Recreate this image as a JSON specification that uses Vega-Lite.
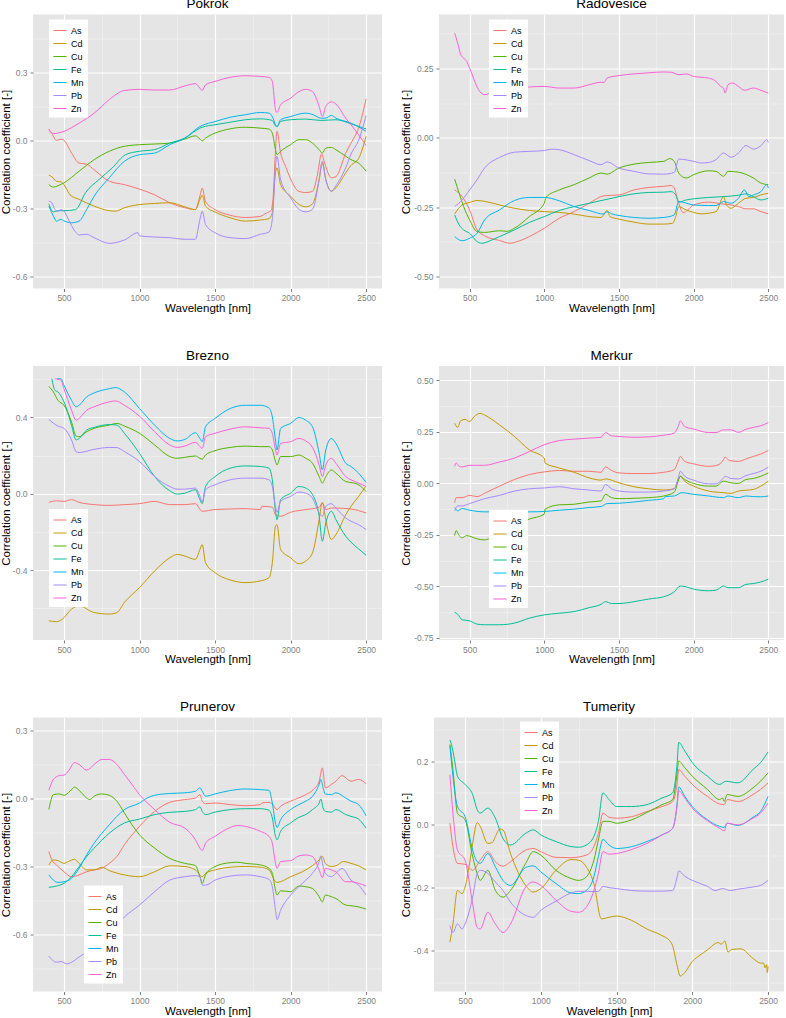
{
"$schema":"https://vega.github.io/schema/vega-lite/v6.json",
"background":"white",
"padding":{"left":0,"top":-3.5,"right":0,"bottom":0},
"config":{
 "font":"Liberation Sans",
 "view":{"fill":"#E5E5E5","stroke":null},
 "axis":{"domain":false,"labelColor":"#7F7F7F","labelFontSize":8.5,"tickSize":3,"tickColor":"#7F7F7F","titleFontSize":11.5,"titleFontWeight":"normal","titleColor":"black","labelFlush":false,"labelOverlap":false},
 "axisX":{"labelPadding":2,"titlePadding":0},
 "axisY":{"labelPadding":3,"titlePadding":1},
 "title":{"fontSize":13.5,"fontWeight":"normal","offset":0,"color":"black"},
 "legend":{"fillColor":"white","padding":4,"symbolType":"stroke","symbolStrokeWidth":1.4,"symbolSize":169,"labelFontSize":9,"labelColor":"black","rowPadding":1,"labelOffset":4},
 "line":{"strokeWidth":1,"interpolate":"monotone","clip":true}
},
"datasets":{
"Pokrok":[
{"el":"As","wl":400,"r":0.05},{"el":"As","wl":420,"r":0.03},{"el":"As","wl":450,"r":0.0},{"el":"As","wl":480,"r":0.005},{"el":"As","wl":500,"r":0.0},{"el":"As","wl":550,"r":-0.055},{"el":"As","wl":600,"r":-0.1},{"el":"As","wl":650,"r":-0.105},{"el":"As","wl":700,"r":-0.13},{"el":"As","wl":800,"r":-0.18},{"el":"As","wl":900,"r":-0.195},{"el":"As","wl":1000,"r":-0.215},{"el":"As","wl":1100,"r":-0.24},{"el":"As","wl":1200,"r":-0.275},{"el":"As","wl":1300,"r":-0.297},{"el":"As","wl":1370,"r":-0.305},{"el":"As","wl":1400,"r":-0.245},{"el":"As","wl":1415,"r":-0.21},{"el":"As","wl":1437,"r":-0.27},{"el":"As","wl":1500,"r":-0.305},{"el":"As","wl":1600,"r":-0.33},{"el":"As","wl":1700,"r":-0.34},{"el":"As","wl":1800,"r":-0.335},{"el":"As","wl":1840,"r":-0.32},{"el":"As","wl":1870,"r":-0.31},{"el":"As","wl":1885,"r":-0.245},{"el":"As","wl":1898,"r":-0.07},{"el":"As","wl":1910,"r":0.04},{"el":"As","wl":1934,"r":-0.055},{"el":"As","wl":1967,"r":-0.115},{"el":"As","wl":2000,"r":-0.17},{"el":"As","wl":2055,"r":-0.225},{"el":"As","wl":2100,"r":-0.23},{"el":"As","wl":2145,"r":-0.225},{"el":"As","wl":2175,"r":-0.16},{"el":"As","wl":2205,"r":-0.06},{"el":"As","wl":2225,"r":-0.1},{"el":"As","wl":2270,"r":-0.165},{"el":"As","wl":2300,"r":-0.16},{"el":"As","wl":2365,"r":-0.056},{"el":"As","wl":2400,"r":-0.012},{"el":"As","wl":2450,"r":0.054},{"el":"As","wl":2500,"r":0.183},
{"el":"Cd","wl":400,"r":-0.154},{"el":"Cd","wl":420,"r":-0.16},{"el":"Cd","wl":450,"r":-0.18},{"el":"Cd","wl":480,"r":-0.183},{"el":"Cd","wl":500,"r":-0.195},{"el":"Cd","wl":540,"r":-0.24},{"el":"Cd","wl":600,"r":-0.26},{"el":"Cd","wl":700,"r":-0.29},{"el":"Cd","wl":800,"r":-0.31},{"el":"Cd","wl":840,"r":-0.312},{"el":"Cd","wl":900,"r":-0.297},{"el":"Cd","wl":1000,"r":-0.283},{"el":"Cd","wl":1100,"r":-0.278},{"el":"Cd","wl":1200,"r":-0.275},{"el":"Cd","wl":1300,"r":-0.293},{"el":"Cd","wl":1370,"r":-0.305},{"el":"Cd","wl":1400,"r":-0.26},{"el":"Cd","wl":1415,"r":-0.242},{"el":"Cd","wl":1437,"r":-0.29},{"el":"Cd","wl":1500,"r":-0.316},{"el":"Cd","wl":1600,"r":-0.341},{"el":"Cd","wl":1700,"r":-0.356},{"el":"Cd","wl":1800,"r":-0.351},{"el":"Cd","wl":1857,"r":-0.345},{"el":"Cd","wl":1879,"r":-0.319},{"el":"Cd","wl":1900,"r":-0.143},{"el":"Cd","wl":1910,"r":-0.121},{"el":"Cd","wl":1934,"r":-0.195},{"el":"Cd","wl":2000,"r":-0.246},{"el":"Cd","wl":2055,"r":-0.282},{"el":"Cd","wl":2100,"r":-0.293},{"el":"Cd","wl":2145,"r":-0.28},{"el":"Cd","wl":2189,"r":-0.173},{"el":"Cd","wl":2210,"r":-0.1},{"el":"Cd","wl":2233,"r":-0.173},{"el":"Cd","wl":2270,"r":-0.224},{"el":"Cd","wl":2300,"r":-0.209},{"el":"Cd","wl":2365,"r":-0.143},{"el":"Cd","wl":2400,"r":-0.11},{"el":"Cd","wl":2450,"r":-0.08},{"el":"Cd","wl":2500,"r":0.018},
{"el":"Cu","wl":400,"r":-0.195},{"el":"Cu","wl":430,"r":-0.206},{"el":"Cu","wl":460,"r":-0.2},{"el":"Cu","wl":500,"r":-0.187},{"el":"Cu","wl":600,"r":-0.136},{"el":"Cu","wl":700,"r":-0.085},{"el":"Cu","wl":800,"r":-0.048},{"el":"Cu","wl":900,"r":-0.026},{"el":"Cu","wl":1000,"r":-0.019},{"el":"Cu","wl":1100,"r":-0.016},{"el":"Cu","wl":1200,"r":-0.012},{"el":"Cu","wl":1300,"r":0.006},{"el":"Cu","wl":1370,"r":0.02},{"el":"Cu","wl":1400,"r":0.006},{"el":"Cu","wl":1415,"r":-0.002},{"el":"Cu","wl":1437,"r":0.01},{"el":"Cu","wl":1500,"r":0.032},{"el":"Cu","wl":1600,"r":0.051},{"el":"Cu","wl":1700,"r":0.058},{"el":"Cu","wl":1800,"r":0.054},{"el":"Cu","wl":1857,"r":0.05},{"el":"Cu","wl":1879,"r":0.032},{"el":"Cu","wl":1900,"r":-0.041},{"el":"Cu","wl":1910,"r":-0.063},{"el":"Cu","wl":1934,"r":-0.048},{"el":"Cu","wl":2000,"r":-0.019},{"el":"Cu","wl":2055,"r":0.003},{"el":"Cu","wl":2100,"r":0.003},{"el":"Cu","wl":2145,"r":-0.012},{"el":"Cu","wl":2189,"r":-0.041},{"el":"Cu","wl":2210,"r":-0.056},{"el":"Cu","wl":2233,"r":-0.034},{"el":"Cu","wl":2270,"r":-0.031},{"el":"Cu","wl":2300,"r":-0.041},{"el":"Cu","wl":2365,"r":-0.07},{"el":"Cu","wl":2400,"r":-0.085},{"el":"Cu","wl":2450,"r":-0.1},{"el":"Cu","wl":2500,"r":-0.136},
{"el":"Fe","wl":400,"r":-0.28},{"el":"Fe","wl":430,"r":-0.315},{"el":"Fe","wl":460,"r":-0.31},{"el":"Fe","wl":500,"r":-0.31},{"el":"Fe","wl":577,"r":-0.305},{"el":"Fe","wl":643,"r":-0.23},{"el":"Fe","wl":731,"r":-0.173},{"el":"Fe","wl":820,"r":-0.121},{"el":"Fe","wl":908,"r":-0.063},{"el":"Fe","wl":1000,"r":-0.048},{"el":"Fe","wl":1100,"r":-0.041},{"el":"Fe","wl":1200,"r":-0.012},{"el":"Fe","wl":1300,"r":0.01},{"el":"Fe","wl":1400,"r":0.054},{"el":"Fe","wl":1415,"r":0.058},{"el":"Fe","wl":1500,"r":0.069},{"el":"Fe","wl":1600,"r":0.08},{"el":"Fe","wl":1700,"r":0.091},{"el":"Fe","wl":1800,"r":0.095},{"el":"Fe","wl":1879,"r":0.088},{"el":"Fe","wl":1900,"r":0.064},{"el":"Fe","wl":1910,"r":0.061},{"el":"Fe","wl":1934,"r":0.083},{"el":"Fe","wl":2000,"r":0.091},{"el":"Fe","wl":2100,"r":0.094},{"el":"Fe","wl":2200,"r":0.088},{"el":"Fe","wl":2300,"r":0.091},{"el":"Fe","wl":2400,"r":0.073},{"el":"Fe","wl":2500,"r":0.05},
{"el":"Mn","wl":400,"r":-0.29},{"el":"Mn","wl":430,"r":-0.334},{"el":"Mn","wl":450,"r":-0.356},{"el":"Mn","wl":480,"r":-0.348},{"el":"Mn","wl":500,"r":-0.355},{"el":"Mn","wl":550,"r":-0.363},{"el":"Mn","wl":600,"r":-0.356},{"el":"Mn","wl":650,"r":-0.305},{"el":"Mn","wl":700,"r":-0.246},{"el":"Mn","wl":800,"r":-0.165},{"el":"Mn","wl":900,"r":-0.092},{"el":"Mn","wl":1000,"r":-0.063},{"el":"Mn","wl":1100,"r":-0.056},{"el":"Mn","wl":1200,"r":-0.019},{"el":"Mn","wl":1300,"r":0.01},{"el":"Mn","wl":1400,"r":0.061},{"el":"Mn","wl":1415,"r":0.066},{"el":"Mn","wl":1500,"r":0.083},{"el":"Mn","wl":1600,"r":0.102},{"el":"Mn","wl":1700,"r":0.113},{"el":"Mn","wl":1800,"r":0.123},{"el":"Mn","wl":1857,"r":0.12},{"el":"Mn","wl":1879,"r":0.105},{"el":"Mn","wl":1900,"r":0.069},{"el":"Mn","wl":1910,"r":0.061},{"el":"Mn","wl":1934,"r":0.091},{"el":"Mn","wl":2000,"r":0.105},{"el":"Mn","wl":2100,"r":0.12},{"el":"Mn","wl":2150,"r":0.113},{"el":"Mn","wl":2200,"r":0.098},{"el":"Mn","wl":2230,"r":0.098},{"el":"Mn","wl":2270,"r":0.11},{"el":"Mn","wl":2300,"r":0.098},{"el":"Mn","wl":2400,"r":0.076},{"el":"Mn","wl":2500,"r":0.04},
{"el":"Pb","wl":400,"r":-0.268},{"el":"Pb","wl":420,"r":-0.275},{"el":"Pb","wl":440,"r":-0.305},{"el":"Pb","wl":460,"r":-0.312},{"el":"Pb","wl":480,"r":-0.305},{"el":"Pb","wl":500,"r":-0.312},{"el":"Pb","wl":540,"r":-0.363},{"el":"Pb","wl":580,"r":-0.407},{"el":"Pb","wl":600,"r":-0.417},{"el":"Pb","wl":650,"r":-0.414},{"el":"Pb","wl":700,"r":-0.429},{"el":"Pb","wl":800,"r":-0.454},{"el":"Pb","wl":900,"r":-0.439},{"el":"Pb","wl":990,"r":-0.407},{"el":"Pb","wl":1000,"r":-0.421},{"el":"Pb","wl":1100,"r":-0.426},{"el":"Pb","wl":1200,"r":-0.429},{"el":"Pb","wl":1300,"r":-0.436},{"el":"Pb","wl":1370,"r":-0.436},{"el":"Pb","wl":1400,"r":-0.348},{"el":"Pb","wl":1415,"r":-0.312},{"el":"Pb","wl":1437,"r":-0.371},{"el":"Pb","wl":1500,"r":-0.407},{"el":"Pb","wl":1600,"r":-0.429},{"el":"Pb","wl":1700,"r":-0.433},{"el":"Pb","wl":1800,"r":-0.414},{"el":"Pb","wl":1857,"r":-0.404},{"el":"Pb","wl":1879,"r":-0.348},{"el":"Pb","wl":1900,"r":-0.114},{"el":"Pb","wl":1910,"r":-0.07},{"el":"Pb","wl":1934,"r":-0.173},{"el":"Pb","wl":2000,"r":-0.253},{"el":"Pb","wl":2055,"r":-0.304},{"el":"Pb","wl":2100,"r":-0.315},{"el":"Pb","wl":2145,"r":-0.304},{"el":"Pb","wl":2189,"r":-0.173},{"el":"Pb","wl":2210,"r":-0.092},{"el":"Pb","wl":2233,"r":-0.173},{"el":"Pb","wl":2270,"r":-0.224},{"el":"Pb","wl":2300,"r":-0.2},{"el":"Pb","wl":2365,"r":-0.12},{"el":"Pb","wl":2400,"r":-0.06},{"el":"Pb","wl":2450,"r":0.0},{"el":"Pb","wl":2500,"r":0.11},
{"el":"Zn","wl":400,"r":0.047},{"el":"Zn","wl":430,"r":0.03},{"el":"Zn","wl":500,"r":0.04},{"el":"Zn","wl":600,"r":0.076},{"el":"Zn","wl":700,"r":0.12},{"el":"Zn","wl":800,"r":0.18},{"el":"Zn","wl":900,"r":0.22},{"el":"Zn","wl":1000,"r":0.225},{"el":"Zn","wl":1100,"r":0.222},{"el":"Zn","wl":1200,"r":0.222},{"el":"Zn","wl":1300,"r":0.24},{"el":"Zn","wl":1370,"r":0.25},{"el":"Zn","wl":1400,"r":0.23},{"el":"Zn","wl":1415,"r":0.22},{"el":"Zn","wl":1437,"r":0.245},{"el":"Zn","wl":1500,"r":0.26},{"el":"Zn","wl":1600,"r":0.278},{"el":"Zn","wl":1700,"r":0.285},{"el":"Zn","wl":1800,"r":0.282},{"el":"Zn","wl":1857,"r":0.278},{"el":"Zn","wl":1879,"r":0.26},{"el":"Zn","wl":1900,"r":0.135},{"el":"Zn","wl":1910,"r":0.123},{"el":"Zn","wl":1934,"r":0.157},{"el":"Zn","wl":2000,"r":0.186},{"el":"Zn","wl":2055,"r":0.215},{"el":"Zn","wl":2100,"r":0.225},{"el":"Zn","wl":2145,"r":0.215},{"el":"Zn","wl":2189,"r":0.15},{"el":"Zn","wl":2210,"r":0.105},{"el":"Zn","wl":2233,"r":0.15},{"el":"Zn","wl":2270,"r":0.17},{"el":"Zn","wl":2300,"r":0.16},{"el":"Zn","wl":2365,"r":0.098},{"el":"Zn","wl":2400,"r":0.069},{"el":"Zn","wl":2450,"r":0.025},{"el":"Zn","wl":2500,"r":-0.023}
],
"Radovesice":[
{"el":"As","wl":400,"r":-0.188},{"el":"As","wl":450,"r":-0.212},{"el":"As","wl":500,"r":-0.26},{"el":"As","wl":550,"r":-0.332},{"el":"As","wl":600,"r":-0.353},{"el":"As","wl":700,"r":-0.37},{"el":"As","wl":770,"r":-0.38},{"el":"As","wl":800,"r":-0.377},{"el":"As","wl":900,"r":-0.356},{"el":"As","wl":1000,"r":-0.326},{"el":"As","wl":1100,"r":-0.29},{"el":"As","wl":1200,"r":-0.266},{"el":"As","wl":1300,"r":-0.236},{"el":"As","wl":1400,"r":-0.209},{"el":"As","wl":1500,"r":-0.206},{"el":"As","wl":1600,"r":-0.188},{"el":"As","wl":1700,"r":-0.179},{"el":"As","wl":1800,"r":-0.175},{"el":"As","wl":1850,"r":-0.172},{"el":"As","wl":1870,"r":-0.181},{"el":"As","wl":1900,"r":-0.236},{"el":"As","wl":1930,"r":-0.27},{"el":"As","wl":1960,"r":-0.26},{"el":"As","wl":2000,"r":-0.242},{"el":"As","wl":2100,"r":-0.232},{"el":"As","wl":2200,"r":-0.239},{"el":"As","wl":2250,"r":-0.242},{"el":"As","wl":2300,"r":-0.248},{"el":"As","wl":2350,"r":-0.256},{"el":"As","wl":2400,"r":-0.256},{"el":"As","wl":2450,"r":-0.266},{"el":"As","wl":2500,"r":-0.274},
{"el":"Cd","wl":400,"r":-0.274},{"el":"Cd","wl":450,"r":-0.242},{"el":"Cd","wl":500,"r":-0.233},{"el":"Cd","wl":550,"r":-0.226},{"el":"Cd","wl":600,"r":-0.229},{"el":"Cd","wl":700,"r":-0.242},{"el":"Cd","wl":800,"r":-0.254},{"el":"Cd","wl":900,"r":-0.262},{"el":"Cd","wl":1000,"r":-0.266},{"el":"Cd","wl":1100,"r":-0.269},{"el":"Cd","wl":1200,"r":-0.275},{"el":"Cd","wl":1300,"r":-0.284},{"el":"Cd","wl":1380,"r":-0.287},{"el":"Cd","wl":1420,"r":-0.262},{"el":"Cd","wl":1440,"r":-0.284},{"el":"Cd","wl":1500,"r":-0.293},{"el":"Cd","wl":1600,"r":-0.304},{"el":"Cd","wl":1700,"r":-0.311},{"el":"Cd","wl":1800,"r":-0.311},{"el":"Cd","wl":1860,"r":-0.308},{"el":"Cd","wl":1880,"r":-0.284},{"el":"Cd","wl":1900,"r":-0.248},{"el":"Cd","wl":1950,"r":-0.26},{"el":"Cd","wl":2000,"r":-0.269},{"el":"Cd","wl":2050,"r":-0.274},{"el":"Cd","wl":2150,"r":-0.266},{"el":"Cd","wl":2200,"r":-0.212},{"el":"Cd","wl":2220,"r":-0.242},{"el":"Cd","wl":2250,"r":-0.254},{"el":"Cd","wl":2300,"r":-0.236},{"el":"Cd","wl":2350,"r":-0.218},{"el":"Cd","wl":2400,"r":-0.215},{"el":"Cd","wl":2450,"r":-0.206},{"el":"Cd","wl":2500,"r":-0.2},
{"el":"Cu","wl":400,"r":-0.149},{"el":"Cu","wl":430,"r":-0.2},{"el":"Cu","wl":460,"r":-0.248},{"el":"Cu","wl":500,"r":-0.296},{"el":"Cu","wl":550,"r":-0.338},{"el":"Cu","wl":600,"r":-0.341},{"el":"Cu","wl":700,"r":-0.335},{"el":"Cu","wl":750,"r":-0.337},{"el":"Cu","wl":800,"r":-0.326},{"el":"Cu","wl":900,"r":-0.284},{"el":"Cu","wl":1000,"r":-0.236},{"el":"Cu","wl":1010,"r":-0.215},{"el":"Cu","wl":1100,"r":-0.188},{"el":"Cu","wl":1200,"r":-0.169},{"el":"Cu","wl":1300,"r":-0.145},{"el":"Cu","wl":1380,"r":-0.127},{"el":"Cu","wl":1420,"r":-0.131},{"el":"Cu","wl":1500,"r":-0.109},{"el":"Cu","wl":1600,"r":-0.095},{"el":"Cu","wl":1700,"r":-0.089},{"el":"Cu","wl":1800,"r":-0.085},{"el":"Cu","wl":1840,"r":-0.075},{"el":"Cu","wl":1870,"r":-0.085},{"el":"Cu","wl":1900,"r":-0.127},{"el":"Cu","wl":1950,"r":-0.145},{"el":"Cu","wl":2000,"r":-0.133},{"el":"Cu","wl":2100,"r":-0.119},{"el":"Cu","wl":2150,"r":-0.121},{"el":"Cu","wl":2200,"r":-0.139},{"el":"Cu","wl":2230,"r":-0.121},{"el":"Cu","wl":2300,"r":-0.124},{"el":"Cu","wl":2400,"r":-0.145},{"el":"Cu","wl":2450,"r":-0.163},{"el":"Cu","wl":2500,"r":-0.169},
{"el":"Fe","wl":400,"r":-0.278},{"el":"Fe","wl":430,"r":-0.314},{"el":"Fe","wl":460,"r":-0.332},{"el":"Fe","wl":500,"r":-0.344},{"el":"Fe","wl":550,"r":-0.374},{"el":"Fe","wl":580,"r":-0.38},{"el":"Fe","wl":650,"r":-0.368},{"el":"Fe","wl":700,"r":-0.356},{"el":"Fe","wl":800,"r":-0.332},{"el":"Fe","wl":900,"r":-0.305},{"el":"Fe","wl":1000,"r":-0.284},{"el":"Fe","wl":1100,"r":-0.262},{"el":"Fe","wl":1200,"r":-0.248},{"el":"Fe","wl":1300,"r":-0.236},{"el":"Fe","wl":1400,"r":-0.224},{"el":"Fe","wl":1500,"r":-0.212},{"el":"Fe","wl":1600,"r":-0.202},{"el":"Fe","wl":1700,"r":-0.197},{"el":"Fe","wl":1800,"r":-0.196},{"el":"Fe","wl":1850,"r":-0.194},{"el":"Fe","wl":1880,"r":-0.206},{"el":"Fe","wl":1900,"r":-0.232},{"el":"Fe","wl":1950,"r":-0.224},{"el":"Fe","wl":2000,"r":-0.22},{"el":"Fe","wl":2100,"r":-0.215},{"el":"Fe","wl":2200,"r":-0.212},{"el":"Fe","wl":2300,"r":-0.207},{"el":"Fe","wl":2350,"r":-0.202},{"el":"Fe","wl":2400,"r":-0.212},{"el":"Fe","wl":2450,"r":-0.224},{"el":"Fe","wl":2500,"r":-0.218},
{"el":"Mn","wl":400,"r":-0.356},{"el":"Mn","wl":450,"r":-0.371},{"el":"Mn","wl":500,"r":-0.362},{"el":"Mn","wl":550,"r":-0.344},{"el":"Mn","wl":600,"r":-0.296},{"el":"Mn","wl":700,"r":-0.26},{"el":"Mn","wl":800,"r":-0.226},{"el":"Mn","wl":900,"r":-0.215},{"el":"Mn","wl":1000,"r":-0.215},{"el":"Mn","wl":1100,"r":-0.227},{"el":"Mn","wl":1200,"r":-0.248},{"el":"Mn","wl":1300,"r":-0.262},{"el":"Mn","wl":1400,"r":-0.275},{"el":"Mn","wl":1420,"r":-0.266},{"el":"Mn","wl":1450,"r":-0.274},{"el":"Mn","wl":1500,"r":-0.28},{"el":"Mn","wl":1600,"r":-0.287},{"el":"Mn","wl":1700,"r":-0.29},{"el":"Mn","wl":1800,"r":-0.287},{"el":"Mn","wl":1870,"r":-0.278},{"el":"Mn","wl":1900,"r":-0.23},{"el":"Mn","wl":2000,"r":-0.242},{"el":"Mn","wl":2100,"r":-0.244},{"el":"Mn","wl":2150,"r":-0.244},{"el":"Mn","wl":2200,"r":-0.23},{"el":"Mn","wl":2250,"r":-0.236},{"el":"Mn","wl":2300,"r":-0.218},{"el":"Mn","wl":2340,"r":-0.188},{"el":"Mn","wl":2370,"r":-0.212},{"el":"Mn","wl":2400,"r":-0.206},{"el":"Mn","wl":2450,"r":-0.194},{"el":"Mn","wl":2490,"r":-0.169},{"el":"Mn","wl":2500,"r":-0.181},
{"el":"Pb","wl":400,"r":-0.248},{"el":"Pb","wl":450,"r":-0.224},{"el":"Pb","wl":500,"r":-0.188},{"el":"Pb","wl":550,"r":-0.151},{"el":"Pb","wl":600,"r":-0.109},{"el":"Pb","wl":650,"r":-0.085},{"el":"Pb","wl":700,"r":-0.071},{"el":"Pb","wl":800,"r":-0.052},{"el":"Pb","wl":900,"r":-0.049},{"el":"Pb","wl":1000,"r":-0.046},{"el":"Pb","wl":1050,"r":-0.041},{"el":"Pb","wl":1100,"r":-0.043},{"el":"Pb","wl":1200,"r":-0.061},{"el":"Pb","wl":1300,"r":-0.082},{"el":"Pb","wl":1380,"r":-0.097},{"el":"Pb","wl":1420,"r":-0.087},{"el":"Pb","wl":1500,"r":-0.109},{"el":"Pb","wl":1600,"r":-0.121},{"el":"Pb","wl":1700,"r":-0.13},{"el":"Pb","wl":1800,"r":-0.131},{"el":"Pb","wl":1870,"r":-0.125},{"el":"Pb","wl":1900,"r":-0.077},{"el":"Pb","wl":2000,"r":-0.085},{"el":"Pb","wl":2050,"r":-0.091},{"el":"Pb","wl":2100,"r":-0.089},{"el":"Pb","wl":2150,"r":-0.079},{"el":"Pb","wl":2200,"r":-0.055},{"el":"Pb","wl":2250,"r":-0.07},{"el":"Pb","wl":2300,"r":-0.055},{"el":"Pb","wl":2350,"r":-0.028},{"el":"Pb","wl":2400,"r":-0.041},{"el":"Pb","wl":2450,"r":-0.029},{"el":"Pb","wl":2490,"r":-0.007},{"el":"Pb","wl":2500,"r":-0.017},
{"el":"Zn","wl":400,"r":0.377},{"el":"Zn","wl":420,"r":0.341},{"el":"Zn","wl":440,"r":0.3},{"el":"Zn","wl":460,"r":0.287},{"el":"Zn","wl":480,"r":0.275},{"el":"Zn","wl":500,"r":0.251},{"el":"Zn","wl":530,"r":0.209},{"el":"Zn","wl":560,"r":0.173},{"el":"Zn","wl":600,"r":0.155},{"el":"Zn","wl":650,"r":0.163},{"el":"Zn","wl":700,"r":0.167},{"el":"Zn","wl":800,"r":0.175},{"el":"Zn","wl":900,"r":0.183},{"el":"Zn","wl":1000,"r":0.185},{"el":"Zn","wl":1100,"r":0.179},{"el":"Zn","wl":1200,"r":0.179},{"el":"Zn","wl":1300,"r":0.191},{"el":"Zn","wl":1380,"r":0.2},{"el":"Zn","wl":1400,"r":0.199},{"el":"Zn","wl":1420,"r":0.215},{"el":"Zn","wl":1500,"r":0.224},{"el":"Zn","wl":1600,"r":0.23},{"el":"Zn","wl":1700,"r":0.234},{"el":"Zn","wl":1800,"r":0.237},{"el":"Zn","wl":1850,"r":0.236},{"el":"Zn","wl":1900,"r":0.227},{"el":"Zn","wl":1950,"r":0.23},{"el":"Zn","wl":2000,"r":0.221},{"el":"Zn","wl":2100,"r":0.215},{"el":"Zn","wl":2150,"r":0.203},{"el":"Zn","wl":2180,"r":0.185},{"el":"Zn","wl":2200,"r":0.179},{"el":"Zn","wl":2210,"r":0.161},{"el":"Zn","wl":2230,"r":0.191},{"el":"Zn","wl":2260,"r":0.197},{"el":"Zn","wl":2300,"r":0.185},{"el":"Zn","wl":2340,"r":0.171},{"el":"Zn","wl":2400,"r":0.179},{"el":"Zn","wl":2450,"r":0.171},{"el":"Zn","wl":2500,"r":0.161}
],
"Brezno":[
{"el":"As","wl":400,"r":-0.045},{"el":"As","wl":450,"r":-0.037},{"el":"As","wl":500,"r":-0.04},{"el":"As","wl":550,"r":-0.031},{"el":"As","wl":600,"r":-0.045},{"el":"As","wl":700,"r":-0.057},{"el":"As","wl":800,"r":-0.061},{"el":"As","wl":900,"r":-0.057},{"el":"As","wl":1000,"r":-0.052},{"el":"As","wl":1100,"r":-0.04},{"el":"As","wl":1200,"r":-0.057},{"el":"As","wl":1300,"r":-0.057},{"el":"As","wl":1370,"r":-0.052},{"el":"As","wl":1415,"r":-0.092},{"el":"As","wl":1500,"r":-0.083},{"el":"As","wl":1600,"r":-0.08},{"el":"As","wl":1700,"r":-0.078},{"el":"As","wl":1800,"r":-0.083},{"el":"As","wl":1810,"r":-0.066},{"el":"As","wl":1879,"r":-0.07},{"el":"As","wl":1900,"r":-0.11},{"el":"As","wl":1934,"r":-0.118},{"el":"As","wl":2000,"r":-0.097},{"el":"As","wl":2100,"r":-0.083},{"el":"As","wl":2189,"r":-0.071},{"el":"As","wl":2210,"r":-0.049},{"el":"As","wl":2233,"r":-0.083},{"el":"As","wl":2270,"r":-0.075},{"el":"As","wl":2300,"r":-0.075},{"el":"As","wl":2400,"r":-0.08},{"el":"As","wl":2500,"r":-0.101},
{"el":"Cd","wl":400,"r":-0.666},{"el":"Cd","wl":450,"r":-0.671},{"el":"Cd","wl":490,"r":-0.657},{"el":"Cd","wl":550,"r":-0.605},{"el":"Cd","wl":600,"r":-0.588},{"el":"Cd","wl":700,"r":-0.623},{"el":"Cd","wl":800,"r":-0.631},{"el":"Cd","wl":850,"r":-0.623},{"el":"Cd","wl":900,"r":-0.57},{"el":"Cd","wl":1000,"r":-0.492},{"el":"Cd","wl":1100,"r":-0.405},{"el":"Cd","wl":1200,"r":-0.336},{"el":"Cd","wl":1250,"r":-0.318},{"el":"Cd","wl":1300,"r":-0.327},{"el":"Cd","wl":1370,"r":-0.344},{"el":"Cd","wl":1400,"r":-0.292},{"el":"Cd","wl":1415,"r":-0.266},{"el":"Cd","wl":1437,"r":-0.362},{"el":"Cd","wl":1500,"r":-0.414},{"el":"Cd","wl":1600,"r":-0.452},{"el":"Cd","wl":1700,"r":-0.466},{"el":"Cd","wl":1800,"r":-0.457},{"el":"Cd","wl":1857,"r":-0.44},{"el":"Cd","wl":1879,"r":-0.362},{"el":"Cd","wl":1900,"r":-0.17},{"el":"Cd","wl":1910,"r":-0.162},{"el":"Cd","wl":1934,"r":-0.292},{"el":"Cd","wl":2000,"r":-0.336},{"el":"Cd","wl":2055,"r":-0.367},{"el":"Cd","wl":2100,"r":-0.353},{"el":"Cd","wl":2145,"r":-0.31},{"el":"Cd","wl":2189,"r":-0.136},{"el":"Cd","wl":2210,"r":-0.045},{"el":"Cd","wl":2233,"r":-0.136},{"el":"Cd","wl":2270,"r":-0.24},{"el":"Cd","wl":2300,"r":-0.214},{"el":"Cd","wl":2365,"r":-0.11},{"el":"Cd","wl":2400,"r":-0.066},{"el":"Cd","wl":2450,"r":-0.014},{"el":"Cd","wl":2500,"r":0.042},
{"el":"Cu","wl":400,"r":0.563},{"el":"Cu","wl":430,"r":0.534},{"el":"Cu","wl":460,"r":0.49},{"el":"Cu","wl":500,"r":0.464},{"el":"Cu","wl":550,"r":0.377},{"el":"Cu","wl":580,"r":0.303},{"el":"Cu","wl":600,"r":0.299},{"el":"Cu","wl":650,"r":0.325},{"el":"Cu","wl":700,"r":0.343},{"el":"Cu","wl":800,"r":0.36},{"el":"Cu","wl":850,"r":0.369},{"el":"Cu","wl":900,"r":0.355},{"el":"Cu","wl":1000,"r":0.317},{"el":"Cu","wl":1100,"r":0.256},{"el":"Cu","wl":1200,"r":0.195},{"el":"Cu","wl":1250,"r":0.186},{"el":"Cu","wl":1300,"r":0.191},{"el":"Cu","wl":1370,"r":0.198},{"el":"Cu","wl":1400,"r":0.186},{"el":"Cu","wl":1415,"r":0.181},{"el":"Cu","wl":1437,"r":0.203},{"el":"Cu","wl":1500,"r":0.226},{"el":"Cu","wl":1600,"r":0.243},{"el":"Cu","wl":1700,"r":0.25},{"el":"Cu","wl":1800,"r":0.247},{"el":"Cu","wl":1857,"r":0.247},{"el":"Cu","wl":1879,"r":0.23},{"el":"Cu","wl":1900,"r":0.169},{"el":"Cu","wl":1910,"r":0.151},{"el":"Cu","wl":1934,"r":0.195},{"el":"Cu","wl":2000,"r":0.195},{"el":"Cu","wl":2055,"r":0.203},{"el":"Cu","wl":2100,"r":0.186},{"el":"Cu","wl":2145,"r":0.16},{"el":"Cu","wl":2189,"r":0.09},{"el":"Cu","wl":2210,"r":0.056},{"el":"Cu","wl":2233,"r":0.09},{"el":"Cu","wl":2270,"r":0.125},{"el":"Cu","wl":2300,"r":0.108},{"el":"Cu","wl":2365,"r":0.064},{"el":"Cu","wl":2400,"r":0.059},{"el":"Cu","wl":2450,"r":0.047},{"el":"Cu","wl":2500,"r":0.012},
{"el":"Fe","wl":420,"r":0.603},{"el":"Fe","wl":440,"r":0.543},{"el":"Fe","wl":460,"r":0.534},{"el":"Fe","wl":500,"r":0.482},{"el":"Fe","wl":550,"r":0.36},{"el":"Fe","wl":580,"r":0.282},{"el":"Fe","wl":600,"r":0.29},{"el":"Fe","wl":650,"r":0.334},{"el":"Fe","wl":700,"r":0.348},{"el":"Fe","wl":800,"r":0.363},{"el":"Fe","wl":850,"r":0.36},{"el":"Fe","wl":900,"r":0.317},{"el":"Fe","wl":1000,"r":0.212},{"el":"Fe","wl":1100,"r":0.09},{"el":"Fe","wl":1200,"r":0.016},{"el":"Fe","wl":1250,"r":-0.002},{"el":"Fe","wl":1300,"r":0.003},{"el":"Fe","wl":1370,"r":0.021},{"el":"Fe","wl":1400,"r":-0.031},{"el":"Fe","wl":1415,"r":-0.052},{"el":"Fe","wl":1437,"r":0.038},{"el":"Fe","wl":1500,"r":0.09},{"el":"Fe","wl":1600,"r":0.134},{"el":"Fe","wl":1700,"r":0.146},{"el":"Fe","wl":1800,"r":0.143},{"el":"Fe","wl":1857,"r":0.134},{"el":"Fe","wl":1879,"r":0.073},{"el":"Fe","wl":1900,"r":-0.092},{"el":"Fe","wl":1910,"r":-0.136},{"el":"Fe","wl":1934,"r":-0.031},{"el":"Fe","wl":2000,"r":0.003},{"el":"Fe","wl":2055,"r":0.038},{"el":"Fe","wl":2100,"r":0.03},{"el":"Fe","wl":2145,"r":-0.005},{"el":"Fe","wl":2189,"r":-0.118},{"el":"Fe","wl":2210,"r":-0.249},{"el":"Fe","wl":2233,"r":-0.153},{"el":"Fe","wl":2270,"r":-0.092},{"el":"Fe","wl":2300,"r":-0.136},{"el":"Fe","wl":2365,"r":-0.223},{"el":"Fe","wl":2400,"r":-0.254},{"el":"Fe","wl":2450,"r":-0.289},{"el":"Fe","wl":2500,"r":-0.323},
{"el":"Mn","wl":455,"r":0.603},{"el":"Mn","wl":480,"r":0.603},{"el":"Mn","wl":500,"r":0.569},{"el":"Mn","wl":550,"r":0.49},{"el":"Mn","wl":580,"r":0.456},{"el":"Mn","wl":600,"r":0.464},{"el":"Mn","wl":650,"r":0.508},{"el":"Mn","wl":700,"r":0.529},{"el":"Mn","wl":800,"r":0.551},{"el":"Mn","wl":840,"r":0.557},{"el":"Mn","wl":900,"r":0.534},{"el":"Mn","wl":1000,"r":0.447},{"el":"Mn","wl":1100,"r":0.36},{"el":"Mn","wl":1200,"r":0.29},{"el":"Mn","wl":1250,"r":0.277},{"el":"Mn","wl":1300,"r":0.285},{"el":"Mn","wl":1370,"r":0.32},{"el":"Mn","wl":1400,"r":0.29},{"el":"Mn","wl":1415,"r":0.273},{"el":"Mn","wl":1437,"r":0.351},{"el":"Mn","wl":1500,"r":0.395},{"el":"Mn","wl":1600,"r":0.447},{"el":"Mn","wl":1700,"r":0.464},{"el":"Mn","wl":1800,"r":0.464},{"el":"Mn","wl":1857,"r":0.45},{"el":"Mn","wl":1879,"r":0.403},{"el":"Mn","wl":1900,"r":0.282},{"el":"Mn","wl":1910,"r":0.23},{"el":"Mn","wl":1934,"r":0.343},{"el":"Mn","wl":2000,"r":0.369},{"el":"Mn","wl":2055,"r":0.4},{"el":"Mn","wl":2100,"r":0.386},{"el":"Mn","wl":2145,"r":0.351},{"el":"Mn","wl":2189,"r":0.212},{"el":"Mn","wl":2210,"r":0.125},{"el":"Mn","wl":2233,"r":0.23},{"el":"Mn","wl":2270,"r":0.29},{"el":"Mn","wl":2300,"r":0.264},{"el":"Mn","wl":2365,"r":0.16},{"el":"Mn","wl":2400,"r":0.143},{"el":"Mn","wl":2450,"r":0.108},{"el":"Mn","wl":2500,"r":0.059},
{"el":"Pb","wl":400,"r":0.39},{"el":"Pb","wl":430,"r":0.37},{"el":"Pb","wl":460,"r":0.355},{"el":"Pb","wl":500,"r":0.343},{"el":"Pb","wl":550,"r":0.282},{"el":"Pb","wl":580,"r":0.221},{"el":"Pb","wl":600,"r":0.216},{"el":"Pb","wl":700,"r":0.233},{"el":"Pb","wl":800,"r":0.243},{"el":"Pb","wl":850,"r":0.242},{"el":"Pb","wl":900,"r":0.221},{"el":"Pb","wl":1000,"r":0.169},{"el":"Pb","wl":1100,"r":0.09},{"el":"Pb","wl":1200,"r":0.038},{"el":"Pb","wl":1250,"r":0.024},{"el":"Pb","wl":1300,"r":0.024},{"el":"Pb","wl":1370,"r":0.03},{"el":"Pb","wl":1400,"r":-0.014},{"el":"Pb","wl":1415,"r":-0.045},{"el":"Pb","wl":1437,"r":0.021},{"el":"Pb","wl":1500,"r":0.047},{"el":"Pb","wl":1600,"r":0.073},{"el":"Pb","wl":1700,"r":0.082},{"el":"Pb","wl":1800,"r":0.082},{"el":"Pb","wl":1857,"r":0.073},{"el":"Pb","wl":1879,"r":0.038},{"el":"Pb","wl":1900,"r":-0.066},{"el":"Pb","wl":1910,"r":-0.097},{"el":"Pb","wl":1934,"r":-0.04},{"el":"Pb","wl":2000,"r":-0.014},{"el":"Pb","wl":2055,"r":0.009},{"el":"Pb","wl":2100,"r":0.003},{"el":"Pb","wl":2145,"r":-0.023},{"el":"Pb","wl":2189,"r":-0.101},{"el":"Pb","wl":2210,"r":-0.118},{"el":"Pb","wl":2233,"r":-0.066},{"el":"Pb","wl":2270,"r":-0.052},{"el":"Pb","wl":2300,"r":-0.075},{"el":"Pb","wl":2365,"r":-0.127},{"el":"Pb","wl":2400,"r":-0.144},{"el":"Pb","wl":2450,"r":-0.162},{"el":"Pb","wl":2500,"r":-0.188},
{"el":"Zn","wl":440,"r":0.603},{"el":"Zn","wl":480,"r":0.595},{"el":"Zn","wl":500,"r":0.551},{"el":"Zn","wl":550,"r":0.438},{"el":"Zn","wl":580,"r":0.386},{"el":"Zn","wl":600,"r":0.395},{"el":"Zn","wl":650,"r":0.438},{"el":"Zn","wl":700,"r":0.456},{"el":"Zn","wl":800,"r":0.482},{"el":"Zn","wl":840,"r":0.487},{"el":"Zn","wl":900,"r":0.464},{"el":"Zn","wl":1000,"r":0.407},{"el":"Zn","wl":1100,"r":0.325},{"el":"Zn","wl":1200,"r":0.256},{"el":"Zn","wl":1250,"r":0.243},{"el":"Zn","wl":1300,"r":0.25},{"el":"Zn","wl":1370,"r":0.27},{"el":"Zn","wl":1400,"r":0.247},{"el":"Zn","wl":1415,"r":0.238},{"el":"Zn","wl":1437,"r":0.299},{"el":"Zn","wl":1500,"r":0.317},{"el":"Zn","wl":1600,"r":0.339},{"el":"Zn","wl":1700,"r":0.351},{"el":"Zn","wl":1800,"r":0.346},{"el":"Zn","wl":1857,"r":0.343},{"el":"Zn","wl":1879,"r":0.317},{"el":"Zn","wl":1900,"r":0.23},{"el":"Zn","wl":1910,"r":0.203},{"el":"Zn","wl":1934,"r":0.264},{"el":"Zn","wl":2000,"r":0.273},{"el":"Zn","wl":2055,"r":0.29},{"el":"Zn","wl":2100,"r":0.277},{"el":"Zn","wl":2145,"r":0.243},{"el":"Zn","wl":2189,"r":0.151},{"el":"Zn","wl":2210,"r":0.09},{"el":"Zn","wl":2233,"r":0.151},{"el":"Zn","wl":2270,"r":0.186},{"el":"Zn","wl":2300,"r":0.16},{"el":"Zn","wl":2365,"r":0.09},{"el":"Zn","wl":2400,"r":0.073},{"el":"Zn","wl":2450,"r":0.056},{"el":"Zn","wl":2500,"r":0.038}
],
"Merkur":[
{"el":"As","wl":400,"r":-0.093},{"el":"As","wl":410,"r":-0.069},{"el":"As","wl":450,"r":-0.069},{"el":"As","wl":500,"r":-0.058},{"el":"As","wl":550,"r":-0.064},{"el":"As","wl":600,"r":-0.048},{"el":"As","wl":700,"r":-0.013},{"el":"As","wl":800,"r":0.019},{"el":"As","wl":900,"r":0.043},{"el":"As","wl":1000,"r":0.056},{"el":"As","wl":1100,"r":0.063},{"el":"As","wl":1200,"r":0.059},{"el":"As","wl":1300,"r":0.059},{"el":"As","wl":1380,"r":0.054},{"el":"As","wl":1410,"r":0.08},{"el":"As","wl":1450,"r":0.063},{"el":"As","wl":1500,"r":0.051},{"el":"As","wl":1600,"r":0.048},{"el":"As","wl":1700,"r":0.048},{"el":"As","wl":1800,"r":0.054},{"el":"As","wl":1870,"r":0.067},{"el":"As","wl":1900,"r":0.115},{"el":"As","wl":1910,"r":0.131},{"el":"As","wl":1940,"r":0.107},{"el":"As","wl":2000,"r":0.095},{"el":"As","wl":2100,"r":0.083},{"el":"As","wl":2150,"r":0.087},{"el":"As","wl":2200,"r":0.115},{"el":"As","wl":2210,"r":0.128},{"el":"As","wl":2240,"r":0.111},{"el":"As","wl":2300,"r":0.107},{"el":"As","wl":2350,"r":0.119},{"el":"As","wl":2400,"r":0.131},{"el":"As","wl":2450,"r":0.143},{"el":"As","wl":2500,"r":0.16},
{"el":"Cd","wl":400,"r":0.292},{"el":"Cd","wl":420,"r":0.272},{"el":"Cd","wl":440,"r":0.304},{"el":"Cd","wl":470,"r":0.311},{"el":"Cd","wl":500,"r":0.3},{"el":"Cd","wl":530,"r":0.324},{"el":"Cd","wl":570,"r":0.34},{"el":"Cd","wl":600,"r":0.332},{"el":"Cd","wl":700,"r":0.284},{"el":"Cd","wl":800,"r":0.228},{"el":"Cd","wl":900,"r":0.163},{"el":"Cd","wl":1000,"r":0.123},{"el":"Cd","wl":1005,"r":0.099},{"el":"Cd","wl":1100,"r":0.075},{"el":"Cd","wl":1200,"r":0.054},{"el":"Cd","wl":1300,"r":0.027},{"el":"Cd","wl":1380,"r":0.016},{"el":"Cd","wl":1410,"r":0.022},{"el":"Cd","wl":1500,"r":0.003},{"el":"Cd","wl":1600,"r":-0.016},{"el":"Cd","wl":1700,"r":-0.026},{"el":"Cd","wl":1800,"r":-0.032},{"el":"Cd","wl":1870,"r":-0.026},{"el":"Cd","wl":1900,"r":0.022},{"el":"Cd","wl":1910,"r":0.035},{"el":"Cd","wl":1940,"r":0.011},{"el":"Cd","wl":2000,"r":-0.013},{"el":"Cd","wl":2100,"r":-0.037},{"el":"Cd","wl":2200,"r":-0.045},{"el":"Cd","wl":2250,"r":-0.048},{"el":"Cd","wl":2300,"r":-0.037},{"el":"Cd","wl":2400,"r":-0.029},{"el":"Cd","wl":2450,"r":-0.013},{"el":"Cd","wl":2500,"r":0.011},
{"el":"Cu","wl":400,"r":-0.253},{"el":"Cu","wl":410,"r":-0.229},{"el":"Cu","wl":430,"r":-0.253},{"el":"Cu","wl":450,"r":-0.264},{"el":"Cu","wl":480,"r":-0.253},{"el":"Cu","wl":500,"r":-0.256},{"el":"Cu","wl":550,"r":-0.269},{"el":"Cu","wl":600,"r":-0.274},{"el":"Cu","wl":650,"r":-0.261},{"el":"Cu","wl":700,"r":-0.24},{"el":"Cu","wl":800,"r":-0.205},{"el":"Cu","wl":900,"r":-0.173},{"el":"Cu","wl":1000,"r":-0.149},{"el":"Cu","wl":1005,"r":-0.125},{"el":"Cu","wl":1100,"r":-0.104},{"el":"Cu","wl":1200,"r":-0.101},{"el":"Cu","wl":1300,"r":-0.09},{"el":"Cu","wl":1380,"r":-0.085},{"el":"Cu","wl":1410,"r":-0.053},{"el":"Cu","wl":1450,"r":-0.069},{"el":"Cu","wl":1500,"r":-0.074},{"el":"Cu","wl":1600,"r":-0.072},{"el":"Cu","wl":1700,"r":-0.069},{"el":"Cu","wl":1800,"r":-0.061},{"el":"Cu","wl":1870,"r":-0.042},{"el":"Cu","wl":1900,"r":0.019},{"el":"Cu","wl":1910,"r":0.035},{"el":"Cu","wl":1940,"r":0.019},{"el":"Cu","wl":2000,"r":0.0},{"el":"Cu","wl":2100,"r":-0.013},{"el":"Cu","wl":2150,"r":-0.013},{"el":"Cu","wl":2200,"r":0.011},{"el":"Cu","wl":2250,"r":0.003},{"el":"Cu","wl":2300,"r":0.0},{"el":"Cu","wl":2350,"r":0.019},{"el":"Cu","wl":2400,"r":0.024},{"el":"Cu","wl":2450,"r":0.035},{"el":"Cu","wl":2500,"r":0.051},
{"el":"Fe","wl":400,"r":-0.625},{"el":"Fe","wl":420,"r":-0.635},{"el":"Fe","wl":450,"r":-0.662},{"el":"Fe","wl":500,"r":-0.667},{"el":"Fe","wl":550,"r":-0.683},{"el":"Fe","wl":600,"r":-0.686},{"el":"Fe","wl":700,"r":-0.686},{"el":"Fe","wl":800,"r":-0.678},{"el":"Fe","wl":900,"r":-0.654},{"el":"Fe","wl":1000,"r":-0.638},{"el":"Fe","wl":1100,"r":-0.63},{"el":"Fe","wl":1200,"r":-0.622},{"el":"Fe","wl":1300,"r":-0.603},{"el":"Fe","wl":1380,"r":-0.587},{"el":"Fe","wl":1410,"r":-0.574},{"el":"Fe","wl":1450,"r":-0.583},{"el":"Fe","wl":1500,"r":-0.583},{"el":"Fe","wl":1600,"r":-0.574},{"el":"Fe","wl":1700,"r":-0.561},{"el":"Fe","wl":1800,"r":-0.55},{"el":"Fe","wl":1870,"r":-0.526},{"el":"Fe","wl":1910,"r":-0.498},{"el":"Fe","wl":1950,"r":-0.502},{"el":"Fe","wl":2000,"r":-0.513},{"el":"Fe","wl":2100,"r":-0.521},{"el":"Fe","wl":2150,"r":-0.518},{"el":"Fe","wl":2200,"r":-0.498},{"el":"Fe","wl":2230,"r":-0.506},{"el":"Fe","wl":2300,"r":-0.506},{"el":"Fe","wl":2350,"r":-0.49},{"el":"Fe","wl":2400,"r":-0.486},{"el":"Fe","wl":2450,"r":-0.478},{"el":"Fe","wl":2500,"r":-0.465},
{"el":"Mn","wl":400,"r":-0.117},{"el":"Mn","wl":420,"r":-0.133},{"el":"Mn","wl":450,"r":-0.122},{"el":"Mn","wl":500,"r":-0.13},{"el":"Mn","wl":600,"r":-0.138},{"el":"Mn","wl":700,"r":-0.138},{"el":"Mn","wl":800,"r":-0.138},{"el":"Mn","wl":900,"r":-0.138},{"el":"Mn","wl":1000,"r":-0.136},{"el":"Mn","wl":1100,"r":-0.13},{"el":"Mn","wl":1200,"r":-0.125},{"el":"Mn","wl":1300,"r":-0.117},{"el":"Mn","wl":1380,"r":-0.112},{"el":"Mn","wl":1420,"r":-0.098},{"el":"Mn","wl":1500,"r":-0.096},{"el":"Mn","wl":1600,"r":-0.09},{"el":"Mn","wl":1700,"r":-0.082},{"el":"Mn","wl":1800,"r":-0.074},{"el":"Mn","wl":1810,"r":-0.064},{"el":"Mn","wl":1870,"r":-0.061},{"el":"Mn","wl":1920,"r":-0.045},{"el":"Mn","wl":2000,"r":-0.053},{"el":"Mn","wl":2100,"r":-0.061},{"el":"Mn","wl":2200,"r":-0.069},{"el":"Mn","wl":2230,"r":-0.061},{"el":"Mn","wl":2300,"r":-0.069},{"el":"Mn","wl":2350,"r":-0.061},{"el":"Mn","wl":2400,"r":-0.064},{"el":"Mn","wl":2450,"r":-0.065},{"el":"Mn","wl":2500,"r":-0.061},
{"el":"Pb","wl":400,"r":-0.133},{"el":"Pb","wl":420,"r":-0.109},{"el":"Pb","wl":450,"r":-0.109},{"el":"Pb","wl":500,"r":-0.098},{"el":"Pb","wl":600,"r":-0.074},{"el":"Pb","wl":700,"r":-0.058},{"el":"Pb","wl":800,"r":-0.037},{"el":"Pb","wl":900,"r":-0.026},{"el":"Pb","wl":1000,"r":-0.022},{"el":"Pb","wl":1100,"r":-0.016},{"el":"Pb","wl":1200,"r":-0.026},{"el":"Pb","wl":1300,"r":-0.032},{"el":"Pb","wl":1380,"r":-0.037},{"el":"Pb","wl":1410,"r":-0.005},{"el":"Pb","wl":1450,"r":-0.026},{"el":"Pb","wl":1500,"r":-0.037},{"el":"Pb","wl":1600,"r":-0.042},{"el":"Pb","wl":1700,"r":-0.042},{"el":"Pb","wl":1800,"r":-0.037},{"el":"Pb","wl":1870,"r":-0.026},{"el":"Pb","wl":1900,"r":0.035},{"el":"Pb","wl":1910,"r":0.059},{"el":"Pb","wl":1940,"r":0.035},{"el":"Pb","wl":2000,"r":0.016},{"el":"Pb","wl":2100,"r":-0.002},{"el":"Pb","wl":2150,"r":-0.002},{"el":"Pb","wl":2200,"r":0.027},{"el":"Pb","wl":2210,"r":0.035},{"el":"Pb","wl":2250,"r":0.024},{"el":"Pb","wl":2300,"r":0.022},{"el":"Pb","wl":2350,"r":0.038},{"el":"Pb","wl":2400,"r":0.048},{"el":"Pb","wl":2450,"r":0.059},{"el":"Pb","wl":2500,"r":0.079},
{"el":"Zn","wl":400,"r":0.083},{"el":"Zn","wl":410,"r":0.099},{"el":"Zn","wl":430,"r":0.083},{"el":"Zn","wl":450,"r":0.08},{"el":"Zn","wl":500,"r":0.088},{"el":"Zn","wl":600,"r":0.088},{"el":"Zn","wl":700,"r":0.104},{"el":"Zn","wl":800,"r":0.123},{"el":"Zn","wl":900,"r":0.155},{"el":"Zn","wl":1000,"r":0.188},{"el":"Zn","wl":1100,"r":0.208},{"el":"Zn","wl":1200,"r":0.215},{"el":"Zn","wl":1300,"r":0.22},{"el":"Zn","wl":1380,"r":0.224},{"el":"Zn","wl":1410,"r":0.247},{"el":"Zn","wl":1450,"r":0.231},{"el":"Zn","wl":1500,"r":0.228},{"el":"Zn","wl":1600,"r":0.224},{"el":"Zn","wl":1700,"r":0.226},{"el":"Zn","wl":1800,"r":0.234},{"el":"Zn","wl":1870,"r":0.244},{"el":"Zn","wl":1900,"r":0.284},{"el":"Zn","wl":1910,"r":0.304},{"el":"Zn","wl":1940,"r":0.276},{"el":"Zn","wl":2000,"r":0.264},{"el":"Zn","wl":2100,"r":0.247},{"el":"Zn","wl":2150,"r":0.247},{"el":"Zn","wl":2200,"r":0.26},{"el":"Zn","wl":2250,"r":0.26},{"el":"Zn","wl":2300,"r":0.248},{"el":"Zn","wl":2350,"r":0.263},{"el":"Zn","wl":2400,"r":0.272},{"el":"Zn","wl":2450,"r":0.28},{"el":"Zn","wl":2500,"r":0.295}
],
"Prunerov":[
{"el":"As","wl":400,"r":-0.235},{"el":"As","wl":420,"r":-0.272},{"el":"As","wl":450,"r":-0.294},{"el":"As","wl":500,"r":-0.324},{"el":"As","wl":550,"r":-0.346},{"el":"As","wl":600,"r":-0.338},{"el":"As","wl":650,"r":-0.324},{"el":"As","wl":700,"r":-0.316},{"el":"As","wl":750,"r":-0.309},{"el":"As","wl":800,"r":-0.287},{"el":"As","wl":850,"r":-0.257},{"el":"As","wl":900,"r":-0.205},{"el":"As","wl":1000,"r":-0.124},{"el":"As","wl":1100,"r":-0.058},{"el":"As","wl":1200,"r":-0.018},{"el":"As","wl":1300,"r":-0.006},{"el":"As","wl":1370,"r":0.001},{"el":"As","wl":1400,"r":0.016},{"el":"As","wl":1415,"r":-0.013},{"el":"As","wl":1437,"r":-0.024},{"el":"As","wl":1500,"r":-0.021},{"el":"As","wl":1600,"r":-0.028},{"el":"As","wl":1700,"r":-0.033},{"el":"As","wl":1800,"r":-0.028},{"el":"As","wl":1810,"r":-0.021},{"el":"As","wl":1857,"r":-0.018},{"el":"As","wl":1879,"r":-0.025},{"el":"As","wl":1910,"r":-0.05},{"el":"As","wl":1934,"r":-0.035},{"el":"As","wl":2000,"r":-0.013},{"el":"As","wl":2100,"r":0.016},{"el":"As","wl":2150,"r":0.038},{"el":"As","wl":2189,"r":0.075},{"el":"As","wl":2210,"r":0.134},{"el":"As","wl":2230,"r":0.046},{"el":"As","wl":2270,"r":0.061},{"el":"As","wl":2300,"r":0.075},{"el":"As","wl":2340,"r":0.1},{"el":"As","wl":2400,"r":0.075},{"el":"As","wl":2450,"r":0.083},{"el":"As","wl":2500,"r":0.064},
{"el":"Cd","wl":400,"r":-0.294},{"el":"Cd","wl":430,"r":-0.272},{"el":"Cd","wl":460,"r":-0.275},{"el":"Cd","wl":500,"r":-0.287},{"el":"Cd","wl":530,"r":-0.279},{"el":"Cd","wl":570,"r":-0.269},{"el":"Cd","wl":600,"r":-0.287},{"el":"Cd","wl":650,"r":-0.316},{"el":"Cd","wl":700,"r":-0.316},{"el":"Cd","wl":750,"r":-0.304},{"el":"Cd","wl":800,"r":-0.319},{"el":"Cd","wl":900,"r":-0.338},{"el":"Cd","wl":1000,"r":-0.346},{"el":"Cd","wl":1100,"r":-0.324},{"el":"Cd","wl":1200,"r":-0.298},{"el":"Cd","wl":1300,"r":-0.301},{"el":"Cd","wl":1370,"r":-0.316},{"el":"Cd","wl":1415,"r":-0.346},{"el":"Cd","wl":1437,"r":-0.331},{"el":"Cd","wl":1500,"r":-0.316},{"el":"Cd","wl":1600,"r":-0.304},{"el":"Cd","wl":1700,"r":-0.301},{"el":"Cd","wl":1800,"r":-0.304},{"el":"Cd","wl":1857,"r":-0.316},{"el":"Cd","wl":1900,"r":-0.368},{"el":"Cd","wl":1910,"r":-0.371},{"el":"Cd","wl":2000,"r":-0.346},{"el":"Cd","wl":2100,"r":-0.316},{"el":"Cd","wl":2189,"r":-0.272},{"el":"Cd","wl":2210,"r":-0.257},{"el":"Cd","wl":2230,"r":-0.287},{"el":"Cd","wl":2270,"r":-0.301},{"el":"Cd","wl":2300,"r":-0.298},{"el":"Cd","wl":2350,"r":-0.279},{"el":"Cd","wl":2400,"r":-0.287},{"el":"Cd","wl":2450,"r":-0.298},{"el":"Cd","wl":2500,"r":-0.316},
{"el":"Cu","wl":400,"r":-0.05},{"el":"Cu","wl":430,"r":0.016},{"el":"Cu","wl":470,"r":0.019},{"el":"Cu","wl":500,"r":0.013},{"el":"Cu","wl":540,"r":0.031},{"el":"Cu","wl":570,"r":0.049},{"el":"Cu","wl":600,"r":0.035},{"el":"Cu","wl":650,"r":0.001},{"el":"Cu","wl":670,"r":-0.006},{"el":"Cu","wl":700,"r":0.009},{"el":"Cu","wl":750,"r":0.019},{"el":"Cu","wl":800,"r":0.013},{"el":"Cu","wl":850,"r":-0.013},{"el":"Cu","wl":900,"r":-0.065},{"el":"Cu","wl":950,"r":-0.117},{"el":"Cu","wl":1000,"r":-0.161},{"el":"Cu","wl":1100,"r":-0.22},{"el":"Cu","wl":1200,"r":-0.265},{"el":"Cu","wl":1300,"r":-0.287},{"el":"Cu","wl":1370,"r":-0.297},{"el":"Cu","wl":1400,"r":-0.346},{"el":"Cu","wl":1415,"r":-0.375},{"el":"Cu","wl":1437,"r":-0.338},{"el":"Cu","wl":1500,"r":-0.301},{"el":"Cu","wl":1600,"r":-0.284},{"el":"Cu","wl":1650,"r":-0.282},{"el":"Cu","wl":1700,"r":-0.287},{"el":"Cu","wl":1800,"r":-0.294},{"el":"Cu","wl":1857,"r":-0.309},{"el":"Cu","wl":1879,"r":-0.331},{"el":"Cu","wl":1900,"r":-0.405},{"el":"Cu","wl":1910,"r":-0.427},{"el":"Cu","wl":1934,"r":-0.408},{"el":"Cu","wl":2000,"r":-0.412},{"el":"Cu","wl":2055,"r":-0.387},{"el":"Cu","wl":2100,"r":-0.39},{"el":"Cu","wl":2145,"r":-0.398},{"el":"Cu","wl":2189,"r":-0.434},{"el":"Cu","wl":2210,"r":-0.457},{"el":"Cu","wl":2230,"r":-0.427},{"el":"Cu","wl":2270,"r":-0.434},{"el":"Cu","wl":2300,"r":-0.442},{"el":"Cu","wl":2365,"r":-0.471},{"el":"Cu","wl":2400,"r":-0.474},{"el":"Cu","wl":2450,"r":-0.479},{"el":"Cu","wl":2500,"r":-0.489},
{"el":"Fe","wl":400,"r":-0.393},{"el":"Fe","wl":450,"r":-0.387},{"el":"Fe","wl":500,"r":-0.375},{"el":"Fe","wl":550,"r":-0.346},{"el":"Fe","wl":600,"r":-0.301},{"el":"Fe","wl":650,"r":-0.257},{"el":"Fe","wl":700,"r":-0.22},{"el":"Fe","wl":800,"r":-0.154},{"el":"Fe","wl":900,"r":-0.109},{"el":"Fe","wl":1000,"r":-0.092},{"el":"Fe","wl":1100,"r":-0.072},{"el":"Fe","wl":1200,"r":-0.062},{"el":"Fe","wl":1300,"r":-0.058},{"el":"Fe","wl":1370,"r":-0.05},{"el":"Fe","wl":1400,"r":-0.038},{"el":"Fe","wl":1415,"r":-0.058},{"el":"Fe","wl":1437,"r":-0.072},{"el":"Fe","wl":1500,"r":-0.061},{"el":"Fe","wl":1600,"r":-0.05},{"el":"Fe","wl":1700,"r":-0.046},{"el":"Fe","wl":1800,"r":-0.046},{"el":"Fe","wl":1857,"r":-0.053},{"el":"Fe","wl":1879,"r":-0.087},{"el":"Fe","wl":1900,"r":-0.168},{"el":"Fe","wl":1910,"r":-0.183},{"el":"Fe","wl":1934,"r":-0.146},{"el":"Fe","wl":2000,"r":-0.109},{"el":"Fe","wl":2055,"r":-0.084},{"el":"Fe","wl":2100,"r":-0.072},{"el":"Fe","wl":2145,"r":-0.05},{"el":"Fe","wl":2189,"r":-0.021},{"el":"Fe","wl":2200,"r":-0.003},{"el":"Fe","wl":2215,"r":-0.043},{"el":"Fe","wl":2230,"r":-0.058},{"el":"Fe","wl":2270,"r":-0.061},{"el":"Fe","wl":2300,"r":-0.05},{"el":"Fe","wl":2365,"r":-0.072},{"el":"Fe","wl":2400,"r":-0.08},{"el":"Fe","wl":2450,"r":-0.092},{"el":"Fe","wl":2500,"r":-0.132},
{"el":"Mn","wl":400,"r":-0.338},{"el":"Mn","wl":430,"r":-0.361},{"el":"Mn","wl":460,"r":-0.371},{"el":"Mn","wl":500,"r":-0.368},{"el":"Mn","wl":550,"r":-0.353},{"el":"Mn","wl":600,"r":-0.309},{"el":"Mn","wl":650,"r":-0.25},{"el":"Mn","wl":700,"r":-0.198},{"el":"Mn","wl":800,"r":-0.117},{"el":"Mn","wl":850,"r":-0.08},{"el":"Mn","wl":900,"r":-0.05},{"el":"Mn","wl":1000,"r":-0.021},{"el":"Mn","wl":1050,"r":0.001},{"el":"Mn","wl":1100,"r":0.013},{"el":"Mn","wl":1200,"r":0.021},{"el":"Mn","wl":1300,"r":0.024},{"el":"Mn","wl":1370,"r":0.031},{"el":"Mn","wl":1400,"r":0.046},{"el":"Mn","wl":1415,"r":0.031},{"el":"Mn","wl":1437,"r":0.009},{"el":"Mn","wl":1500,"r":0.019},{"el":"Mn","wl":1600,"r":0.034},{"el":"Mn","wl":1700,"r":0.041},{"el":"Mn","wl":1800,"r":0.038},{"el":"Mn","wl":1857,"r":0.035},{"el":"Mn","wl":1879,"r":-0.021},{"el":"Mn","wl":1900,"r":-0.109},{"el":"Mn","wl":1910,"r":-0.129},{"el":"Mn","wl":1934,"r":-0.095},{"el":"Mn","wl":2000,"r":-0.05},{"el":"Mn","wl":2055,"r":-0.028},{"el":"Mn","wl":2100,"r":-0.013},{"el":"Mn","wl":2145,"r":0.009},{"el":"Mn","wl":2189,"r":0.061},{"el":"Mn","wl":2200,"r":0.083},{"el":"Mn","wl":2215,"r":0.046},{"el":"Mn","wl":2230,"r":0.019},{"el":"Mn","wl":2270,"r":0.016},{"el":"Mn","wl":2300,"r":0.024},{"el":"Mn","wl":2365,"r":0.001},{"el":"Mn","wl":2400,"r":-0.013},{"el":"Mn","wl":2450,"r":-0.028},{"el":"Mn","wl":2500,"r":-0.077},
{"el":"Pb","wl":400,"r":-0.696},{"el":"Pb","wl":450,"r":-0.723},{"el":"Pb","wl":480,"r":-0.72},{"el":"Pb","wl":520,"r":-0.73},{"el":"Pb","wl":550,"r":-0.723},{"el":"Pb","wl":600,"r":-0.7},{"el":"Pb","wl":700,"r":-0.656},{"el":"Pb","wl":800,"r":-0.597},{"el":"Pb","wl":900,"r":-0.523},{"el":"Pb","wl":1000,"r":-0.471},{"el":"Pb","wl":1100,"r":-0.412},{"el":"Pb","wl":1200,"r":-0.361},{"el":"Pb","wl":1300,"r":-0.346},{"el":"Pb","wl":1370,"r":-0.341},{"el":"Pb","wl":1400,"r":-0.346},{"el":"Pb","wl":1415,"r":-0.383},{"el":"Pb","wl":1437,"r":-0.383},{"el":"Pb","wl":1500,"r":-0.361},{"el":"Pb","wl":1600,"r":-0.343},{"el":"Pb","wl":1700,"r":-0.338},{"el":"Pb","wl":1800,"r":-0.346},{"el":"Pb","wl":1857,"r":-0.358},{"el":"Pb","wl":1879,"r":-0.39},{"el":"Pb","wl":1900,"r":-0.494},{"el":"Pb","wl":1910,"r":-0.535},{"el":"Pb","wl":1934,"r":-0.494},{"el":"Pb","wl":2000,"r":-0.427},{"el":"Pb","wl":2055,"r":-0.39},{"el":"Pb","wl":2100,"r":-0.361},{"el":"Pb","wl":2145,"r":-0.331},{"el":"Pb","wl":2189,"r":-0.279},{"el":"Pb","wl":2200,"r":-0.254},{"el":"Pb","wl":2215,"r":-0.301},{"el":"Pb","wl":2230,"r":-0.331},{"el":"Pb","wl":2270,"r":-0.346},{"el":"Pb","wl":2300,"r":-0.331},{"el":"Pb","wl":2340,"r":-0.309},{"el":"Pb","wl":2400,"r":-0.361},{"el":"Pb","wl":2450,"r":-0.383},{"el":"Pb","wl":2500,"r":-0.427},
{"el":"Zn","wl":400,"r":0.035},{"el":"Zn","wl":430,"r":0.083},{"el":"Zn","wl":470,"r":0.1},{"el":"Zn","wl":500,"r":0.102},{"el":"Zn","wl":530,"r":0.12},{"el":"Zn","wl":570,"r":0.157},{"el":"Zn","wl":600,"r":0.149},{"el":"Zn","wl":650,"r":0.124},{"el":"Zn","wl":700,"r":0.149},{"el":"Zn","wl":750,"r":0.171},{"el":"Zn","wl":800,"r":0.171},{"el":"Zn","wl":850,"r":0.149},{"el":"Zn","wl":900,"r":0.105},{"el":"Zn","wl":950,"r":0.061},{"el":"Zn","wl":1000,"r":0.016},{"el":"Zn","wl":1100,"r":-0.05},{"el":"Zn","wl":1200,"r":-0.106},{"el":"Zn","wl":1300,"r":-0.132},{"el":"Zn","wl":1370,"r":-0.183},{"el":"Zn","wl":1400,"r":-0.22},{"el":"Zn","wl":1415,"r":-0.231},{"el":"Zn","wl":1437,"r":-0.198},{"el":"Zn","wl":1500,"r":-0.168},{"el":"Zn","wl":1600,"r":-0.129},{"el":"Zn","wl":1650,"r":-0.12},{"el":"Zn","wl":1700,"r":-0.124},{"el":"Zn","wl":1800,"r":-0.146},{"el":"Zn","wl":1857,"r":-0.168},{"el":"Zn","wl":1879,"r":-0.198},{"el":"Zn","wl":1900,"r":-0.287},{"el":"Zn","wl":1910,"r":-0.309},{"el":"Zn","wl":1934,"r":-0.279},{"el":"Zn","wl":2000,"r":-0.275},{"el":"Zn","wl":2055,"r":-0.254},{"el":"Zn","wl":2100,"r":-0.25},{"el":"Zn","wl":2145,"r":-0.257},{"el":"Zn","wl":2189,"r":-0.316},{"el":"Zn","wl":2210,"r":-0.35},{"el":"Zn","wl":2230,"r":-0.309},{"el":"Zn","wl":2270,"r":-0.316},{"el":"Zn","wl":2300,"r":-0.324},{"el":"Zn","wl":2365,"r":-0.368},{"el":"Zn","wl":2400,"r":-0.368},{"el":"Zn","wl":2450,"r":-0.375},{"el":"Zn","wl":2500,"r":-0.387}
],
"Tumerity":[
{"el":"As","wl":400,"r":0.003},{"el":"As","wl":420,"r":-0.071},{"el":"As","wl":450,"r":-0.124},{"el":"As","wl":500,"r":-0.127},{"el":"As","wl":550,"r":-0.146},{"el":"As","wl":600,"r":-0.114},{"el":"As","wl":650,"r":-0.087},{"el":"As","wl":700,"r":-0.119},{"el":"As","wl":750,"r":-0.133},{"el":"As","wl":800,"r":-0.119},{"el":"As","wl":900,"r":-0.082},{"el":"As","wl":950,"r":-0.077},{"el":"As","wl":1000,"r":-0.087},{"el":"As","wl":1100,"r":-0.105},{"el":"As","wl":1200,"r":-0.106},{"el":"As","wl":1300,"r":-0.098},{"el":"As","wl":1350,"r":-0.071},{"el":"As","wl":1380,"r":-0.029},{"el":"As","wl":1410,"r":0.035},{"el":"As","wl":1450,"r":0.022},{"el":"As","wl":1500,"r":0.019},{"el":"As","wl":1600,"r":0.024},{"el":"As","wl":1700,"r":0.04},{"el":"As","wl":1800,"r":0.056},{"el":"As","wl":1870,"r":0.072},{"el":"As","wl":1900,"r":0.131},{"el":"As","wl":1910,"r":0.173},{"el":"As","wl":1950,"r":0.152},{"el":"As","wl":2000,"r":0.126},{"el":"As","wl":2100,"r":0.088},{"el":"As","wl":2180,"r":0.064},{"el":"As","wl":2210,"r":0.062},{"el":"As","wl":2230,"r":0.078},{"el":"As","wl":2300,"r":0.072},{"el":"As","wl":2400,"r":0.094},{"el":"As","wl":2450,"r":0.11},{"el":"As","wl":2500,"r":0.131},
{"el":"Cd","wl":400,"r":-0.374},{"el":"Cd","wl":420,"r":-0.316},{"el":"Cd","wl":450,"r":-0.21},{"el":"Cd","wl":480,"r":-0.22},{"el":"Cd","wl":500,"r":-0.199},{"el":"Cd","wl":530,"r":-0.124},{"el":"Cd","wl":550,"r":-0.061},{"el":"Cd","wl":580,"r":0.005},{"el":"Cd","wl":600,"r":-0.007},{"el":"Cd","wl":650,"r":-0.061},{"el":"Cd","wl":680,"r":-0.058},{"el":"Cd","wl":700,"r":-0.039},{"el":"Cd","wl":730,"r":-0.015},{"el":"Cd","wl":750,"r":-0.018},{"el":"Cd","wl":800,"r":-0.093},{"el":"Cd","wl":900,"r":-0.194},{"el":"Cd","wl":950,"r":-0.215},{"el":"Cd","wl":1000,"r":-0.204},{"el":"Cd","wl":1100,"r":-0.146},{"el":"Cd","wl":1200,"r":-0.112},{"el":"Cd","wl":1250,"r":-0.114},{"el":"Cd","wl":1300,"r":-0.135},{"el":"Cd","wl":1350,"r":-0.188},{"el":"Cd","wl":1400,"r":-0.3},{"el":"Cd","wl":1450,"r":-0.295},{"el":"Cd","wl":1500,"r":-0.291},{"el":"Cd","wl":1600,"r":-0.305},{"el":"Cd","wl":1700,"r":-0.332},{"el":"Cd","wl":1800,"r":-0.353},{"el":"Cd","wl":1850,"r":-0.369},{"el":"Cd","wl":1870,"r":-0.385},{"el":"Cd","wl":1900,"r":-0.449},{"el":"Cd","wl":1920,"r":-0.481},{"el":"Cd","wl":1950,"r":-0.47},{"el":"Cd","wl":2000,"r":-0.435},{"el":"Cd","wl":2050,"r":-0.415},{"el":"Cd","wl":2100,"r":-0.398},{"el":"Cd","wl":2170,"r":-0.375},{"el":"Cd","wl":2190,"r":-0.38},{"el":"Cd","wl":2215,"r":-0.37},{"el":"Cd","wl":2235,"r":-0.405},{"el":"Cd","wl":2260,"r":-0.397},{"el":"Cd","wl":2320,"r":-0.395},{"el":"Cd","wl":2400,"r":-0.425},{"el":"Cd","wl":2450,"r":-0.44},{"el":"Cd","wl":2470,"r":-0.44},{"el":"Cd","wl":2480,"r":-0.455},{"el":"Cd","wl":2490,"r":-0.445},{"el":"Cd","wl":2495,"r":-0.47},{"el":"Cd","wl":2500,"r":-0.45},
{"el":"Cu","wl":400,"r":0.253},{"el":"Cu","wl":420,"r":0.173},{"el":"Cu","wl":450,"r":0.035},{"el":"Cu","wl":500,"r":0.014},{"el":"Cu","wl":550,"r":-0.103},{"el":"Cu","wl":580,"r":-0.156},{"el":"Cu","wl":600,"r":-0.178},{"el":"Cu","wl":650,"r":-0.146},{"el":"Cu","wl":700,"r":-0.21},{"el":"Cu","wl":750,"r":-0.231},{"el":"Cu","wl":800,"r":-0.21},{"el":"Cu","wl":900,"r":-0.124},{"el":"Cu","wl":950,"r":-0.087},{"el":"Cu","wl":1000,"r":-0.098},{"el":"Cu","wl":1100,"r":-0.146},{"el":"Cu","wl":1200,"r":-0.172},{"el":"Cu","wl":1250,"r":-0.178},{"el":"Cu","wl":1300,"r":-0.167},{"el":"Cu","wl":1350,"r":-0.114},{"el":"Cu","wl":1380,"r":-0.05},{"el":"Cu","wl":1410,"r":0.009},{"el":"Cu","wl":1450,"r":0.009},{"el":"Cu","wl":1500,"r":0.003},{"el":"Cu","wl":1600,"r":0.014},{"el":"Cu","wl":1700,"r":0.037},{"el":"Cu","wl":1800,"r":0.062},{"el":"Cu","wl":1870,"r":0.078},{"el":"Cu","wl":1900,"r":0.163},{"el":"Cu","wl":1910,"r":0.2},{"el":"Cu","wl":1950,"r":0.179},{"el":"Cu","wl":2000,"r":0.152},{"el":"Cu","wl":2100,"r":0.11},{"el":"Cu","wl":2180,"r":0.078},{"el":"Cu","wl":2200,"r":0.083},{"el":"Cu","wl":2210,"r":0.072},{"el":"Cu","wl":2230,"r":0.094},{"el":"Cu","wl":2300,"r":0.088},{"el":"Cu","wl":2400,"r":0.115},{"el":"Cu","wl":2450,"r":0.136},{"el":"Cu","wl":2500,"r":0.163},
{"el":"Fe","wl":400,"r":0.267},{"el":"Fe","wl":410,"r":0.253},{"el":"Fe","wl":430,"r":0.205},{"el":"Fe","wl":450,"r":0.152},{"el":"Fe","wl":500,"r":0.126},{"el":"Fe","wl":550,"r":0.094},{"el":"Fe","wl":580,"r":0.046},{"el":"Fe","wl":600,"r":0.035},{"el":"Fe","wl":650,"r":0.051},{"el":"Fe","wl":700,"r":0.019},{"el":"Fe","wl":750,"r":-0.045},{"el":"Fe","wl":800,"r":-0.066},{"el":"Fe","wl":900,"r":-0.029},{"el":"Fe","wl":950,"r":-0.018},{"el":"Fe","wl":1000,"r":-0.034},{"el":"Fe","wl":1100,"r":-0.055},{"el":"Fe","wl":1200,"r":-0.071},{"el":"Fe","wl":1250,"r":-0.073},{"el":"Fe","wl":1300,"r":-0.066},{"el":"Fe","wl":1350,"r":-0.039},{"el":"Fe","wl":1380,"r":0.009},{"el":"Fe","wl":1410,"r":0.099},{"el":"Fe","wl":1450,"r":0.078},{"el":"Fe","wl":1500,"r":0.056},{"el":"Fe","wl":1600,"r":0.056},{"el":"Fe","wl":1700,"r":0.062},{"el":"Fe","wl":1800,"r":0.083},{"el":"Fe","wl":1870,"r":0.099},{"el":"Fe","wl":1900,"r":0.195},{"el":"Fe","wl":1910,"r":0.259},{"el":"Fe","wl":1950,"r":0.232},{"el":"Fe","wl":2000,"r":0.195},{"el":"Fe","wl":2100,"r":0.152},{"el":"Fe","wl":2180,"r":0.126},{"el":"Fe","wl":2220,"r":0.136},{"el":"Fe","wl":2300,"r":0.131},{"el":"Fe","wl":2400,"r":0.173},{"el":"Fe","wl":2450,"r":0.195},{"el":"Fe","wl":2500,"r":0.229},
{"el":"Mn","wl":400,"r":0.248},{"el":"Mn","wl":420,"r":0.152},{"el":"Mn","wl":450,"r":0.056},{"el":"Mn","wl":500,"r":0.024},{"el":"Mn","wl":550,"r":-0.082},{"el":"Mn","wl":580,"r":-0.119},{"el":"Mn","wl":600,"r":-0.124},{"el":"Mn","wl":650,"r":-0.093},{"el":"Mn","wl":700,"r":-0.135},{"el":"Mn","wl":750,"r":-0.178},{"el":"Mn","wl":800,"r":-0.194},{"el":"Mn","wl":900,"r":-0.137},{"el":"Mn","wl":950,"r":-0.132},{"el":"Mn","wl":1000,"r":-0.151},{"el":"Mn","wl":1100,"r":-0.188},{"el":"Mn","wl":1200,"r":-0.218},{"el":"Mn","wl":1250,"r":-0.22},{"el":"Mn","wl":1300,"r":-0.21},{"el":"Mn","wl":1350,"r":-0.167},{"el":"Mn","wl":1380,"r":-0.103},{"el":"Mn","wl":1410,"r":-0.048},{"el":"Mn","wl":1450,"r":-0.066},{"el":"Mn","wl":1500,"r":-0.077},{"el":"Mn","wl":1600,"r":-0.071},{"el":"Mn","wl":1700,"r":-0.055},{"el":"Mn","wl":1800,"r":-0.034},{"el":"Mn","wl":1870,"r":-0.013},{"el":"Mn","wl":1900,"r":0.067},{"el":"Mn","wl":1910,"r":0.118},{"el":"Mn","wl":1950,"r":0.088},{"el":"Mn","wl":2000,"r":0.056},{"el":"Mn","wl":2100,"r":0.014},{"el":"Mn","wl":2180,"r":-0.007},{"el":"Mn","wl":2210,"r":-0.01},{"el":"Mn","wl":2230,"r":0.003},{"el":"Mn","wl":2300,"r":-0.004},{"el":"Mn","wl":2400,"r":0.022},{"el":"Mn","wl":2450,"r":0.04},{"el":"Mn","wl":2500,"r":0.088},
{"el":"Pb","wl":400,"r":-0.321},{"el":"Pb","wl":420,"r":-0.343},{"el":"Pb","wl":450,"r":-0.316},{"el":"Pb","wl":480,"r":-0.332},{"el":"Pb","wl":500,"r":-0.316},{"el":"Pb","wl":550,"r":-0.231},{"el":"Pb","wl":580,"r":-0.156},{"el":"Pb","wl":600,"r":-0.146},{"el":"Pb","wl":650,"r":-0.156},{"el":"Pb","wl":700,"r":-0.183},{"el":"Pb","wl":750,"r":-0.21},{"el":"Pb","wl":800,"r":-0.247},{"el":"Pb","wl":900,"r":-0.289},{"el":"Pb","wl":950,"r":-0.295},{"el":"Pb","wl":1000,"r":-0.273},{"el":"Pb","wl":1100,"r":-0.244},{"el":"Pb","wl":1200,"r":-0.218},{"el":"Pb","wl":1250,"r":-0.213},{"el":"Pb","wl":1300,"r":-0.213},{"el":"Pb","wl":1380,"r":-0.213},{"el":"Pb","wl":1410,"r":-0.197},{"el":"Pb","wl":1450,"r":-0.201},{"el":"Pb","wl":1500,"r":-0.204},{"el":"Pb","wl":1600,"r":-0.21},{"el":"Pb","wl":1700,"r":-0.212},{"el":"Pb","wl":1800,"r":-0.212},{"el":"Pb","wl":1870,"r":-0.21},{"el":"Pb","wl":1900,"r":-0.167},{"el":"Pb","wl":1910,"r":-0.148},{"el":"Pb","wl":1950,"r":-0.165},{"el":"Pb","wl":2000,"r":-0.178},{"el":"Pb","wl":2100,"r":-0.197},{"el":"Pb","wl":2150,"r":-0.21},{"el":"Pb","wl":2200,"r":-0.204},{"el":"Pb","wl":2250,"r":-0.21},{"el":"Pb","wl":2300,"r":-0.206},{"el":"Pb","wl":2400,"r":-0.199},{"el":"Pb","wl":2450,"r":-0.194},{"el":"Pb","wl":2500,"r":-0.178},
{"el":"Zn","wl":400,"r":0.157},{"el":"Zn","wl":420,"r":0.035},{"el":"Zn","wl":450,"r":-0.082},{"el":"Zn","wl":500,"r":-0.114},{"el":"Zn","wl":550,"r":-0.252},{"el":"Zn","wl":580,"r":-0.327},{"el":"Zn","wl":600,"r":-0.332},{"el":"Zn","wl":650,"r":-0.279},{"el":"Zn","wl":700,"r":-0.316},{"el":"Zn","wl":750,"r":-0.343},{"el":"Zn","wl":800,"r":-0.316},{"el":"Zn","wl":900,"r":-0.199},{"el":"Zn","wl":950,"r":-0.183},{"el":"Zn","wl":1000,"r":-0.194},{"el":"Zn","wl":1100,"r":-0.241},{"el":"Zn","wl":1200,"r":-0.276},{"el":"Zn","wl":1250,"r":-0.279},{"el":"Zn","wl":1300,"r":-0.263},{"el":"Zn","wl":1350,"r":-0.21},{"el":"Zn","wl":1380,"r":-0.156},{"el":"Zn","wl":1410,"r":-0.087},{"el":"Zn","wl":1450,"r":-0.095},{"el":"Zn","wl":1500,"r":-0.093},{"el":"Zn","wl":1600,"r":-0.08},{"el":"Zn","wl":1700,"r":-0.061},{"el":"Zn","wl":1800,"r":-0.034},{"el":"Zn","wl":1870,"r":-0.013},{"el":"Zn","wl":1900,"r":0.062},{"el":"Zn","wl":1910,"r":0.106},{"el":"Zn","wl":1950,"r":0.083},{"el":"Zn","wl":2000,"r":0.051},{"el":"Zn","wl":2100,"r":0.011},{"el":"Zn","wl":2180,"r":-0.013},{"el":"Zn","wl":2210,"r":-0.021},{"el":"Zn","wl":2230,"r":0.003},{"el":"Zn","wl":2300,"r":-0.002},{"el":"Zn","wl":2400,"r":0.019},{"el":"Zn","wl":2450,"r":0.035},{"el":"Zn","wl":2500,"r":0.067}
]
},
"spacing":34.5,
"resolve":{"scale":{"color":"independent"},"legend":{"color":"independent"}},
"vconcat":[
{"hconcat":[
 {"width":349,"height":274,"title":"Pokrok","data":{"name":"Pokrok"},"mark":{"type":"line"},
  "encoding":{
   "x":{"field":"wl","type":"quantitative","title":"Wavelength [nm]","scale":{"domain":[295,2605],"nice":false,"zero":false},
    "axis":{"values":[500,750,1000,1250,1500,1750,2000,2250,2500],"labelExpr":"datum.value % 500 === 0 ? format(datum.value,'d') : ''","gridColor":{"condition":{"test":"datum.value % 500 === 0","value":"white"},"value":"#F2F2F2"},"gridWidth":{"condition":{"test":"datum.value % 500 === 0","value":1.2},"value":0.6},"tickOpacity":{"condition":{"test":"datum.value % 500 === 0","value":1},"value":0}}},
   "y":{"field":"r","type":"quantitative","title":"Correlation coefficient [-]","scale":{"domain":[-0.653,0.555],"nice":false,"zero":false},
    "axis":{"values":[-0.6,-0.45,-0.3,-0.15,0,0.15,0.3,0.45],"minExtent":21,"maxExtent":21,"labelExpr":"indexof([-0.6,-0.3,0,0.3],datum.value)>=0 ? replace(format(datum.value,'.1f'),'\u2212','-') : ''","gridColor":{"condition":{"test":"indexof([-0.6,-0.3,0,0.3],datum.value)>=0","value":"white"},"value":"#F2F2F2"},"gridWidth":{"condition":{"test":"indexof([-0.6,-0.3,0,0.3],datum.value)>=0","value":1.2},"value":0.6},"tickOpacity":{"condition":{"test":"indexof([-0.6,-0.3,0,0.3],datum.value)>=0","value":1},"value":0}}},
   "color":{"field":"el","type":"nominal","scale":{"domain":["As","Cd","Cu","Fe","Mn","Pb","Zn"],"range":["#F8766D","#C49A00","#53B400","#00C094","#00B6EB","#A58AFF","#FB61D7"]},"legend":{"title":null,"orient":"none","legendX":16,"legendY":5}}}},
 {"width":345,"height":274,"title":"Radovesice","data":{"name":"Radovesice"},"mark":{"type":"line"},
  "encoding":{
   "x":{"field":"wl","type":"quantitative","title":"Wavelength [nm]","scale":{"domain":[295,2605],"nice":false,"zero":false},
    "axis":{"values":[500,750,1000,1250,1500,1750,2000,2250,2500],"labelExpr":"datum.value % 500 === 0 ? format(datum.value,'d') : ''","gridColor":{"condition":{"test":"datum.value % 500 === 0","value":"white"},"value":"#F2F2F2"},"gridWidth":{"condition":{"test":"datum.value % 500 === 0","value":1.2},"value":0.6},"tickOpacity":{"condition":{"test":"datum.value % 500 === 0","value":1},"value":0}}},
   "y":{"field":"r","type":"quantitative","title":"Correlation coefficient [-]","scale":{"domain":[-0.543,0.444],"nice":false,"zero":false},
    "axis":{"values":[-0.5,-0.375,-0.25,-0.125,0,0.125,0.25,0.375],"minExtent":27,"maxExtent":27,"labelExpr":"indexof([-0.5,-0.25,0,0.25],datum.value)>=0 ? replace(format(datum.value,'.2f'),'\u2212','-') : ''","gridColor":{"condition":{"test":"indexof([-0.5,-0.25,0,0.25],datum.value)>=0","value":"white"},"value":"#F2F2F2"},"gridWidth":{"condition":{"test":"indexof([-0.5,-0.25,0,0.25],datum.value)>=0","value":1.2},"value":0.6},"tickOpacity":{"condition":{"test":"indexof([-0.5,-0.25,0,0.25],datum.value)>=0","value":1},"value":0}}},
   "color":{"field":"el","type":"nominal","scale":{"domain":["As","Cd","Cu","Fe","Mn","Pb","Zn"],"range":["#F8766D","#C49A00","#53B400","#00C094","#00B6EB","#A58AFF","#FB61D7"]},"legend":{"title":null,"orient":"none","legendX":50,"legendY":5}}}}
 ],"spacing":18,"resolve":{"scale":{"color":"independent"},"legend":{"color":"independent"}}},
{"hconcat":[
 {"width":349,"height":274,"title":"Brezno","data":{"name":"Brezno"},"mark":{"type":"line"},
  "encoding":{
   "x":{"field":"wl","type":"quantitative","title":"Wavelength [nm]","scale":{"domain":[295,2605],"nice":false,"zero":false},
    "axis":{"values":[500,750,1000,1250,1500,1750,2000,2250,2500],"labelExpr":"datum.value % 500 === 0 ? format(datum.value,'d') : ''","gridColor":{"condition":{"test":"datum.value % 500 === 0","value":"white"},"value":"#F2F2F2"},"gridWidth":{"condition":{"test":"datum.value % 500 === 0","value":1.2},"value":0.6},"tickOpacity":{"condition":{"test":"datum.value % 500 === 0","value":1},"value":0}}},
   "y":{"field":"r","type":"quantitative","title":"Correlation coefficient [-]","scale":{"domain":[-0.767,0.67],"nice":false,"zero":false},
    "axis":{"values":[-0.6,-0.4,-0.2,0,0.2,0.4,0.6],"minExtent":21,"maxExtent":21,"labelExpr":"indexof([-0.4,0,0.4],datum.value)>=0 ? replace(format(datum.value,'.1f'),'\u2212','-') : ''","gridColor":{"condition":{"test":"indexof([-0.4,0,0.4],datum.value)>=0","value":"white"},"value":"#F2F2F2"},"gridWidth":{"condition":{"test":"indexof([-0.4,0,0.4],datum.value)>=0","value":1.2},"value":0.6},"tickOpacity":{"condition":{"test":"indexof([-0.4,0,0.4],datum.value)>=0","value":1},"value":0}}},
   "color":{"field":"el","type":"nominal","scale":{"domain":["As","Cd","Cu","Fe","Mn","Pb","Zn"],"range":["#F8766D","#C49A00","#53B400","#00C094","#00B6EB","#A58AFF","#FB61D7"]},"legend":{"title":null,"orient":"none","legendX":16,"legendY":143}}}},
 {"width":345,"height":274,"title":"Merkur","data":{"name":"Merkur"},"mark":{"type":"line"},
  "encoding":{
   "x":{"field":"wl","type":"quantitative","title":"Wavelength [nm]","scale":{"domain":[295,2605],"nice":false,"zero":false},
    "axis":{"values":[500,750,1000,1250,1500,1750,2000,2250,2500],"labelExpr":"datum.value % 500 === 0 ? format(datum.value,'d') : ''","gridColor":{"condition":{"test":"datum.value % 500 === 0","value":"white"},"value":"#F2F2F2"},"gridWidth":{"condition":{"test":"datum.value % 500 === 0","value":1.2},"value":0.6},"tickOpacity":{"condition":{"test":"datum.value % 500 === 0","value":1},"value":0}}},
   "y":{"field":"r","type":"quantitative","title":"Correlation coefficient [-]","scale":{"domain":[-0.76,0.57],"nice":false,"zero":false},
    "axis":{"values":[-0.75,-0.625,-0.5,-0.375,-0.25,-0.125,0,0.125,0.25,0.375,0.5],"minExtent":27,"maxExtent":27,"labelExpr":"indexof([-0.75,-0.5,-0.25,0,0.25,0.5],datum.value)>=0 ? replace(format(datum.value,'.2f'),'\u2212','-') : ''","gridColor":{"condition":{"test":"indexof([-0.75,-0.5,-0.25,0,0.25,0.5],datum.value)>=0","value":"white"},"value":"#F2F2F2"},"gridWidth":{"condition":{"test":"indexof([-0.75,-0.5,-0.25,0,0.25,0.5],datum.value)>=0","value":1.2},"value":0.6},"tickOpacity":{"condition":{"test":"indexof([-0.75,-0.5,-0.25,0,0.25,0.5],datum.value)>=0","value":1},"value":0}}},
   "color":{"field":"el","type":"nominal","scale":{"domain":["As","Cd","Cu","Fe","Mn","Pb","Zn"],"range":["#F8766D","#C49A00","#53B400","#00C094","#00B6EB","#A58AFF","#FB61D7"]},"legend":{"title":null,"orient":"none","legendX":50,"legendY":144}}}}
 ],"spacing":18,"resolve":{"scale":{"color":"independent"},"legend":{"color":"independent"}}},
{"hconcat":[
 {"width":349,"height":274,"title":"Prunerov","data":{"name":"Prunerov"},"mark":{"type":"line"},
  "encoding":{
   "x":{"field":"wl","type":"quantitative","title":"Wavelength [nm]","scale":{"domain":[295,2605],"nice":false,"zero":false},
    "axis":{"values":[500,750,1000,1250,1500,1750,2000,2250,2500],"labelExpr":"datum.value % 500 === 0 ? format(datum.value,'d') : ''","gridColor":{"condition":{"test":"datum.value % 500 === 0","value":"white"},"value":"#F2F2F2"},"gridWidth":{"condition":{"test":"datum.value % 500 === 0","value":1.2},"value":0.6},"tickOpacity":{"condition":{"test":"datum.value % 500 === 0","value":1},"value":0}}},
   "y":{"field":"r","type":"quantitative","title":"Correlation coefficient [-]","scale":{"domain":[-0.852,0.356],"nice":false,"zero":false},
    "axis":{"values":[-0.75,-0.6,-0.45,-0.3,-0.15,0,0.15,0.3],"minExtent":21,"maxExtent":21,"labelExpr":"indexof([-0.6,-0.3,0,0.3],datum.value)>=0 ? replace(format(datum.value,'.1f'),'\u2212','-') : ''","gridColor":{"condition":{"test":"indexof([-0.6,-0.3,0,0.3],datum.value)>=0","value":"white"},"value":"#F2F2F2"},"gridWidth":{"condition":{"test":"indexof([-0.6,-0.3,0,0.3],datum.value)>=0","value":1.2},"value":0.6},"tickOpacity":{"condition":{"test":"indexof([-0.6,-0.3,0,0.3],datum.value)>=0","value":1},"value":0}}},
   "color":{"field":"el","type":"nominal","scale":{"domain":["As","Cd","Cu","Fe","Mn","Pb","Zn"],"range":["#F8766D","#C49A00","#53B400","#00C094","#00B6EB","#A58AFF","#FB61D7"]},"legend":{"title":null,"orient":"none","legendX":51,"legendY":168}}}},
 {"width":350,"height":274,"title":"Tumerity","data":{"name":"Tumerity"},"mark":{"type":"line"},
  "encoding":{
   "x":{"field":"wl","type":"quantitative","title":"Wavelength [nm]","scale":{"domain":[295,2605],"nice":false,"zero":false},
    "axis":{"values":[500,750,1000,1250,1500,1750,2000,2250,2500],"labelExpr":"datum.value % 500 === 0 ? format(datum.value,'d') : ''","gridColor":{"condition":{"test":"datum.value % 500 === 0","value":"white"},"value":"#F2F2F2"},"gridWidth":{"condition":{"test":"datum.value % 500 === 0","value":1.2},"value":0.6},"tickOpacity":{"condition":{"test":"datum.value % 500 === 0","value":1},"value":0}}},
   "y":{"field":"r","type":"quantitative","title":"Correlation coefficient [-]","scale":{"domain":[-0.53,0.338],"nice":false,"zero":false},
    "axis":{"values":[-0.5,-0.4,-0.3,-0.2,-0.1,0,0.1,0.2,0.3],"minExtent":22,"maxExtent":22,"labelExpr":"indexof([-0.4,-0.2,0,0.2],datum.value)>=0 ? replace(format(datum.value,'.1f'),'\u2212','-') : ''","gridColor":{"condition":{"test":"indexof([-0.4,-0.2,0,0.2],datum.value)>=0","value":"white"},"value":"#F2F2F2"},"gridWidth":{"condition":{"test":"indexof([-0.4,-0.2,0,0.2],datum.value)>=0","value":1.2},"value":0.6},"tickOpacity":{"condition":{"test":"indexof([-0.4,-0.2,0,0.2],datum.value)>=0","value":1},"value":0}}},
   "color":{"field":"el","type":"nominal","scale":{"domain":["As","Cd","Cu","Fe","Mn","Pb","Zn"],"range":["#F8766D","#C49A00","#53B400","#00C094","#00B6EB","#A58AFF","#FB61D7"]},"legend":{"title":null,"orient":"none","legendX":86,"legendY":4}}}}
 ],"spacing":18,"resolve":{"scale":{"color":"independent"},"legend":{"color":"independent"}}}
]
}
